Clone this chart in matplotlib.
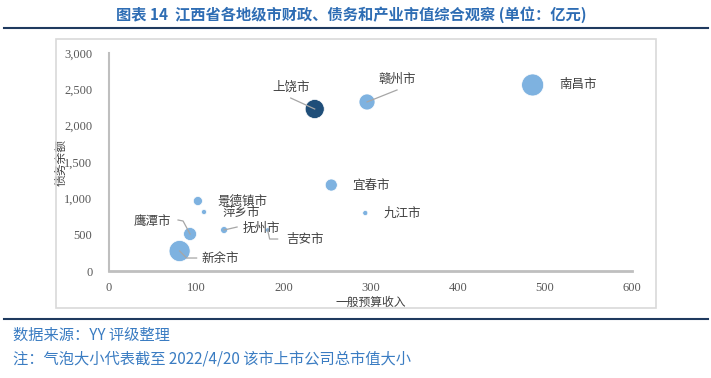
import numpy as np
import matplotlib
matplotlib.use("Agg")
import matplotlib.pyplot as plt
from matplotlib.lines import Line2D
from matplotlib.patches import Rectangle

plt.rcParams["font.family"] = ["Noto Sans CJK SC", "DejaVu Sans"]

# data (亿元)
cities = ["南昌市", "赣州市", "上饶市", "宜春市", "九江市", "景德镇市",
          "萍乡市", "鹰潭市", "新余市", "抚州市", "吉安市"]
revenue = [486, 296, 236, 255, 294, 102, 109, 93, 81, 132, 182]       # 一般预算收入
debt = [2560, 2326, 2229, 1183, 798, 963, 812, 509, 275, 564, 564]     # 债务余额
mkt_cap = [2400, 1270, 1800, 720, 130, 410, 130, 840, 2200, 240, 100]  # 上市公司总市值
highlight = "上饶市"

# label placement, pixel offsets from bubble centre (x right, y up)
label_off = {
    "南昌市": (45, 0), "赣州市": (30, 23), "上饶市": (-24, 22),
    "宜春市": (40, 0), "九江市": (37, 0), "景德镇市": (45, 0),
    "萍乡市": (37, -1), "鹰潭市": (-38, 13), "新余市": (41, -7),
    "抚州市": (37, 2), "吉安市": (37, -9),
}
leaders = {
    "赣州市": [(0, 0), (30, 12)],
    "上饶市": [(0, 0), (-24, 11)],
    "鹰潭市": [(0, 0), (-7, 13), (-12, 14)],
    "新余市": [(0, 0), (7, -7), (17, -7)],
    "抚州市": [(0, 0), (13, 3)],
    "吉安市": [(0, 0), (2, -9), (10, -9)],
}

W, H = 711, 378
fig = plt.figure(figsize=(W / 100, H / 100), dpi=100)
ax = fig.add_axes([109 / W, 1 - 271 / H, 523 / W, 218 / H])

light = "#7EB2E0"
dark = "#1F4E79"
colors = [dark if c == highlight else light for c in cities]
sizes = np.array(mkt_cap) * 0.1045
ax.scatter(revenue, debt, s=sizes, c=colors, edgecolors="white",
           linewidths=0.5, zorder=3)

ax.set_xlim(0, 600)
ax.set_ylim(0, 3000)
ax.set_xticks(np.arange(0, 601, 100))
ax.set_yticks(np.arange(0, 3001, 500))
ax.set_yticklabels([f"{v:,}" for v in range(0, 3001, 500)])
ax.tick_params(length=0, labelsize=9, colors="#595959")
ax.tick_params(axis="y", pad=12)
ax.tick_params(axis="x", pad=8)
for lab in ax.get_xticklabels() + ax.get_yticklabels():
    lab.set_family("Liberation Serif")
for side in ("top", "right"):
    ax.spines[side].set_visible(False)
ax.spines["left"].set_color("#BFBFBF")
ax.spines["left"].set_linewidth(1.5)
ax.spines["bottom"].set_color("#BFBFBF")
ax.spines["bottom"].set_linewidth(2)

ax.set_xlabel("一般预算收入", fontsize=8.5, color="#404040")
ax.xaxis.set_label_coords(0.5, -0.115)
ax.set_ylabel("债务余额", fontsize=8.5, color="#404040")
ax.yaxis.set_label_coords(-0.08, 0.5)

# labels and leader lines
px2pt = 72 / fig.dpi
inv = ax.transData.inverted()
for name, x, y in zip(cities, revenue, debt):
    dx, dy = label_off[name]
    ax.annotate(name, xy=(x, y), xytext=(dx * px2pt, dy * px2pt),
                textcoords="offset points", ha="center", va="center",
                fontsize=9, color="#404040", zorder=4)
    if name in leaders:
        cx, cy = ax.transData.transform((x, y))
        pts = inv.transform([(cx + a, cy + b) for a, b in leaders[name]])
        ax.plot(pts[:, 0], pts[:, 1], color="#A6A6A6", lw=0.9, zorder=4)

# frame, rules, title and notes
fig.add_artist(Rectangle((56 / W, 1 - 308 / H), 600 / W, 269 / H,
                         transform=fig.transFigure, fill=False,
                         edgecolor="#D9D9D9", lw=1.2))
for yy in (28, 319):
    fig.add_artist(Line2D([4 / W, 708 / W], [1 - yy / H] * 2,
                          color="#1F3A5F", lw=1.5))
fig.text(351 / W, 1 - 15 / H,
         "图表 14  江西省各地级市财政、债务和产业市值综合观察 (单位：亿元)",
         ha="center", va="center", fontsize=11, fontweight="bold",
         color="#2E6DB4")
blue = "#3A7CC2"
fig.text(13 / W, 1 - 335 / H, "数据来源：YY 评级整理", va="center",
         fontsize=11, color=blue)
fig.text(13 / W, 1 - 359 / H,
         "注：气泡大小代表截至 2022/4/20 该市上市公司总市值大小",
         va="center", fontsize=11, color=blue)

fig.savefig("out.png", dpi=100)
